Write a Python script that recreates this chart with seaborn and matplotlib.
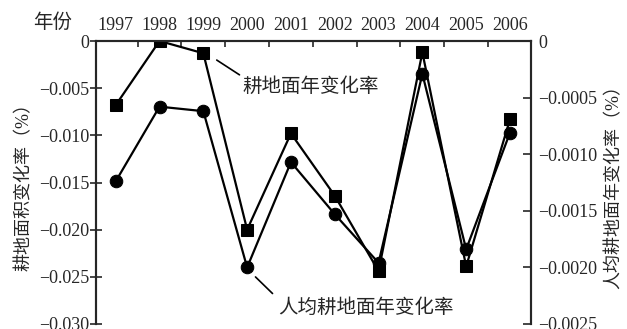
import numpy as np
import pandas as pd
import seaborn as sns
import matplotlib.pyplot as plt
from matplotlib.ticker import FixedLocator

# data
years = [1997, 1998, 1999, 2000, 2001, 2002, 2003, 2004, 2005, 2006]
area_rate = [-0.0068, 0.0000, -0.0013, -0.0200, -0.0098, -0.0164, -0.0244, -0.0012, -0.0239, -0.0083]
per_capita_rate = [-0.00124, -0.00058, -0.00062, -0.00200, -0.00107, -0.00153, -0.00196, -0.00029, -0.00184, -0.00081]

left_ticks = [0, -0.005, -0.010, -0.015, -0.020, -0.025, -0.030]
left_labels = ['0', '−0.005', '−0.010', '−0.015', '−0.020', '−0.025', '−0.030']
right_ticks = [0, -0.0005, -0.0010, -0.0015, -0.0020, -0.0025]
right_labels = ['0', '−0.0005', '−0.0010', '−0.0015', '−0.0020', '−0.0025']

sns.set_style('ticks')
plt.rcParams['font.family'] = ['Liberation Serif', 'Noto Sans CJK SC']
plt.rcParams['axes.linewidth'] = 1.5

df = pd.DataFrame({'year': years, 'area': area_rate, 'per_capita': per_capita_rate})

fig = plt.figure(figsize=(6.27, 3.29), dpi=100)
ax = fig.add_axes([96 / 627, 1 - 324 / 329, 435 / 627, 283 / 329])
ax2 = ax.twinx()

sns.lineplot(data=df, x='year', y='area', marker='s', markersize=9, color='black',
             linewidth=1.6, markeredgecolor='black', ax=ax)
sns.lineplot(data=df, x='year', y='per_capita', marker='o', markersize=9, color='black',
             linewidth=1.6, markeredgecolor='black', ax=ax2)

ax.set_xlim(1996.55, 2006.48)
ax.set_ylim(-0.030, 0)
ax2.set_ylim(-0.0025, 0)

# years on top, small inward ticks between them
ax.xaxis.tick_top()
ax.set_xticks(years)
ax.set_xticklabels([str(y) for y in years], fontsize=13)
ax.xaxis.set_minor_locator(FixedLocator([y + 0.5 for y in years[:-1]]))
ax.tick_params(axis='x', which='major', length=0, pad=5)
ax.tick_params(axis='x', which='minor', direction='in', length=4.5, width=1.2, top=True, bottom=False)

ax.set_yticks(left_ticks)
ax.set_yticklabels(left_labels, fontsize=13)
ax.tick_params(axis='y', direction='inout', length=8, width=1.2, pad=1)

ax2.set_yticks(right_ticks)
ax2.set_yticklabels(right_labels, fontsize=13)
ax2.tick_params(axis='y', direction='in', length=6, width=1.2, pad=5)

for a in (ax, ax2):
    a.spines['bottom'].set_visible(False)
    a.spines['top'].set_visible(True)
    a.spines['right'].set_visible(True)
ax.set_xlabel('')

ax.set_ylabel('耕地面积变化率（%）', fontsize=13, labelpad=4)
ax2.set_ylabel('人均耕地面年变化率（%）', fontsize=13, labelpad=6)

fig.text(53 / 627, 1 - 23 / 329, '年份', ha='center', va='center', fontsize=14)

ax.annotate('耕地面年变化率', xy=(1999.2, -0.0017), xytext=(1999.9, -0.0048),
            fontsize=14, ha='left', va='center',
            arrowprops=dict(arrowstyle='-', color='black', lw=1.2, relpos=(0, 1), shrinkA=0, shrinkB=4))
ax.annotate('人均耕地面年变化率', xy=(2000.1, -0.0246), xytext=(2000.7, -0.0283),
            fontsize=14, ha='left', va='center',
            arrowprops=dict(arrowstyle='-', color='black', lw=1.2, relpos=(0, 1), shrinkA=2, shrinkB=4))

fig.savefig('out.png', dpi=100)
